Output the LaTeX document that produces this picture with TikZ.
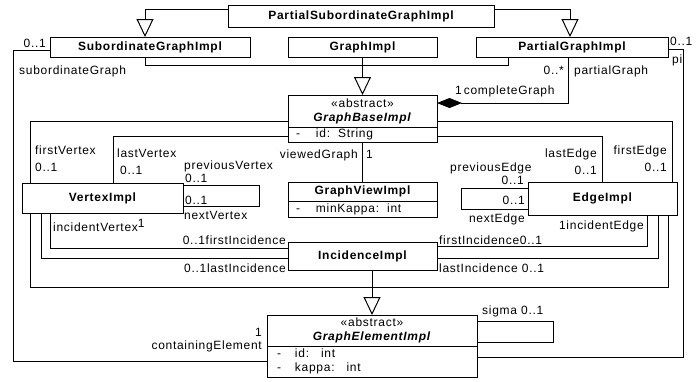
\documentclass[tikz,border=0pt]{standalone}
\usepackage{fontspec}
\setmainfont{Liberation Sans}[LetterSpace=6]
\usetikzlibrary{arrows.meta,positioning}
\newcommand{\umlsize}{\fontsize{12}{14}\selectfont}
\tikzset{
    cls/.style={rectangle, draw, fill=white, line width=1pt, inner sep=0pt,
        outer sep=0pt, font=\umlsize\bfseries, align=center},
    abscls/.style={cls, font=\umlsize\mdseries},
    attr/.style={rectangle, draw, fill=white, line width=1pt, inner ysep=0pt,
        outer sep=0pt, inner xsep=8pt, align=left, text width=#1, font=\umlsize},
    assoc/.style={line width=1pt},
    gen/.style={-{Triangle[open, length=18pt, width=17pt, line width=1pt]}, line width=1pt},
    comp/.style={-{Diamond[length=25pt, width=10pt]}, line width=1pt},
    lbl/.style={inner sep=0pt, font=\umlsize}
}

\begin{document}
\begin{tikzpicture}[x=1pt, y=-1pt]
    \useasboundingbox (0,0) rectangle (697,381);
    % classes
    \node[cls, minimum width=266pt, minimum height=22pt] (psub) at (361,16) {PartialSubordinateGraphImpl};
    \node[cls, minimum width=200pt, minimum height=20pt] (sub) at (150,47) {SubordinateGraphImpl};
    \node[cls, minimum width=149pt, minimum height=20pt] (graph) at (362.5,47) {GraphImpl};
    \node[cls, minimum width=192pt, minimum height=20pt] (pgraph) at (572,47) {PartialGraphImpl};
    \node[abscls, minimum width=149pt, minimum height=32pt] (gbase) at (362.5,111)
        {«abstract»\\\textbf{\textit{GraphBaseImpl}}};
    \node[attr=133pt, minimum height=15pt] (gbattr) [below=0pt of gbase]
        {\makebox[20pt][l]{-}id:\hspace{8pt}String};
    \node[cls, minimum width=161pt, minimum height=30pt] (vertex) at (102.5,198) {VertexImpl};
    \node[cls, minimum width=149pt, minimum height=19pt] (gview) at (362.5,191.5) {GraphViewImpl};
    \node[attr=133pt, minimum height=16pt] (gvattr) [below=0pt of gview]
        {\makebox[20pt][l]{-}minKappa:\hspace{8pt}int};
    \node[cls, minimum width=149pt, minimum height=33pt] (edge) at (602.5,198.5) {EdgeImpl};
    \node[cls, minimum width=149pt, minimum height=28pt] (inc) at (362.5,256) {IncidenceImpl};
    \node[abscls, minimum width=210pt, minimum height=31pt] (gelem) at (372,330.5)
        {«abstract»\\\textbf{\textit{GraphElementImpl}}};
    \node[attr=190pt, inner xsep=10pt, minimum height=31pt] (geattr) [below=0pt of gelem]
        {\makebox[18pt][l]{-}id:\hspace{12pt}int\\\makebox[18pt][l]{-}kappa:\hspace{12pt}int};

    % generalizations
    \draw[gen] ([yshift=-4pt]psub.north west) -| ([xshift=-5pt]sub.north);
    \draw[gen] ([yshift=-4pt]psub.north east) -| ([xshift=-2pt]pgraph.north);
    \draw[assoc] ([xshift=-5pt]sub.south) -- ++(0,8) -| ([xshift=-64pt]pgraph.south);
    \draw[gen] (graph.south) -- (gbase.north);
    \draw[assoc] ([xshift=8pt]vertex.south west) -- ++(0,74) -| ([xshift=-9pt]edge.south east);
    \draw[gen] (inc.south -| gelem.north) -- (gelem.north);

    % associations
    \draw[comp] ([xshift=-4pt]pgraph.south) |- ([yshift=-8pt]gbase.north east);
    \draw[assoc] ([yshift=-3pt]sub.west) -- ++(-37,0) |- (geattr.west);
    \draw[assoc] ([yshift=-2pt]pgraph.east) -- ++(15,0) |- ([yshift=4pt]geattr.east);
    \draw[assoc] ([yshift=-10pt]gbase.west) -| ([xshift=8pt]vertex.north west);
    \draw[assoc] ([yshift=-2pt]gbattr.west) -| ([xshift=91pt]vertex.north west);
    \draw[assoc] ([yshift=-10pt]gbase.east) -| ([xshift=-5pt]edge.north east);
    \draw[assoc] ([yshift=-2pt]gbattr.east) -| (edge.north);
    \draw[assoc] (gbattr.south) -- (gview.north);
    \draw[assoc] ([yshift=13pt]vertex.east) -- ++(76,0) |- ([yshift=-8pt]vertex.east);
    \draw[assoc] ([yshift=10pt]edge.west) -- ++(-67,0) |- ([yshift=-11pt]edge.west);
    \draw[assoc] ([xshift=28pt]vertex.south west) |- ([yshift=8pt]inc.west);
    \draw[assoc] ([xshift=19pt]vertex.south west) |- ([yshift=-2pt]inc.west);
    \draw[assoc] ([xshift=-30pt]edge.south east) |- ([yshift=10pt]inc.east);
    \draw[assoc] ([xshift=-19pt]edge.south east) |- ([yshift=-2pt]inc.east);
    \draw[assoc] ([yshift=9pt]gelem.east) -- ++(76,0) |- ([yshift=-12pt]gelem.east);

    % role names and multiplicities
    \node[lbl, anchor=base east] (msub) at (46,47) {0..1};
    \node[lbl, anchor=base west] (rsub) at (19,74) {subordinateGraph};
    \node[lbl, anchor=base east] (mpart) at (564,74) {0..*};
    \node[lbl, anchor=base west] (rpart) at (574,74) {partialGraph};
    \node[lbl, anchor=base west] (rcomplete) at (455,94) {1\,completeGraph};
    \node[lbl, anchor=base west] (mpi) at (670,45) {0..1};
    \node[lbl, anchor=base west] (rpi) at (672,63) {pi};
    \node[lbl, anchor=base west] (rfv) at (35,154) {firstVertex};
    \node[lbl, anchor=base west] (mfv) at (35,171) {0..1};
    \node[lbl, anchor=base west] (rlv) at (117,157) {lastVertex};
    \node[lbl, anchor=base west] (mlv) at (120,174) {0..1};
    \node[lbl, anchor=base west] (rpv) at (184,169) {previousVertex};
    \node[lbl, anchor=base west] (mpv) at (185,182) {0..1};
    \node[lbl, anchor=base west] (mnv) at (185,204) {0..1};
    \node[lbl, anchor=base west] (rnv) at (184,219) {nextVertex};
    \node[lbl, anchor=base east] (rvg) at (358,158) {viewedGraph};
    \node[lbl, anchor=base west] (mvg) at (366,158) {1};
    \node[lbl, anchor=base west] (rpe) at (450,171) {previousEdge};
    \node[lbl, anchor=base east] (mpe) at (524,184) {0..1};
    \node[lbl, anchor=base east] (mne) at (525,204) {0..1};
    \node[lbl, anchor=base east] (rne) at (525,222) {nextEdge};
    \node[lbl, anchor=base east] (rle) at (597,157) {lastEdge};
    \node[lbl, anchor=base east] (mle) at (597,174) {0..1};
    \node[lbl, anchor=base east] (rfe) at (667,154) {firstEdge};
    \node[lbl, anchor=base east] (mfe) at (667,171) {0..1};
    \node[lbl, anchor=base west] (riv) at (53,231) {incidentVertex\raisebox{4pt}{1}};
    \node[lbl, anchor=base east] (rfiv) at (286,244) {0..1firstIncidence};
    \node[lbl, anchor=base east] (rliv) at (286,272) {0..1lastIncidence};
    \node[lbl, anchor=base east] (rie) at (644,229) {1incidentEdge};
    \node[lbl, anchor=base west] (rfie) at (439,244) {firstIncidence0..1};
    \node[lbl, anchor=base west] (rlie) at (439,272) {lastIncidence 0..1};
    \node[lbl, anchor=base east] (mce) at (262,336) {1};
    \node[lbl, anchor=base east] (rce) at (262,349) {containingElement};
    \node[lbl, anchor=base west] (rsigma) at (482,314) {sigma 0..1};
\end{tikzpicture}
\end{document}
